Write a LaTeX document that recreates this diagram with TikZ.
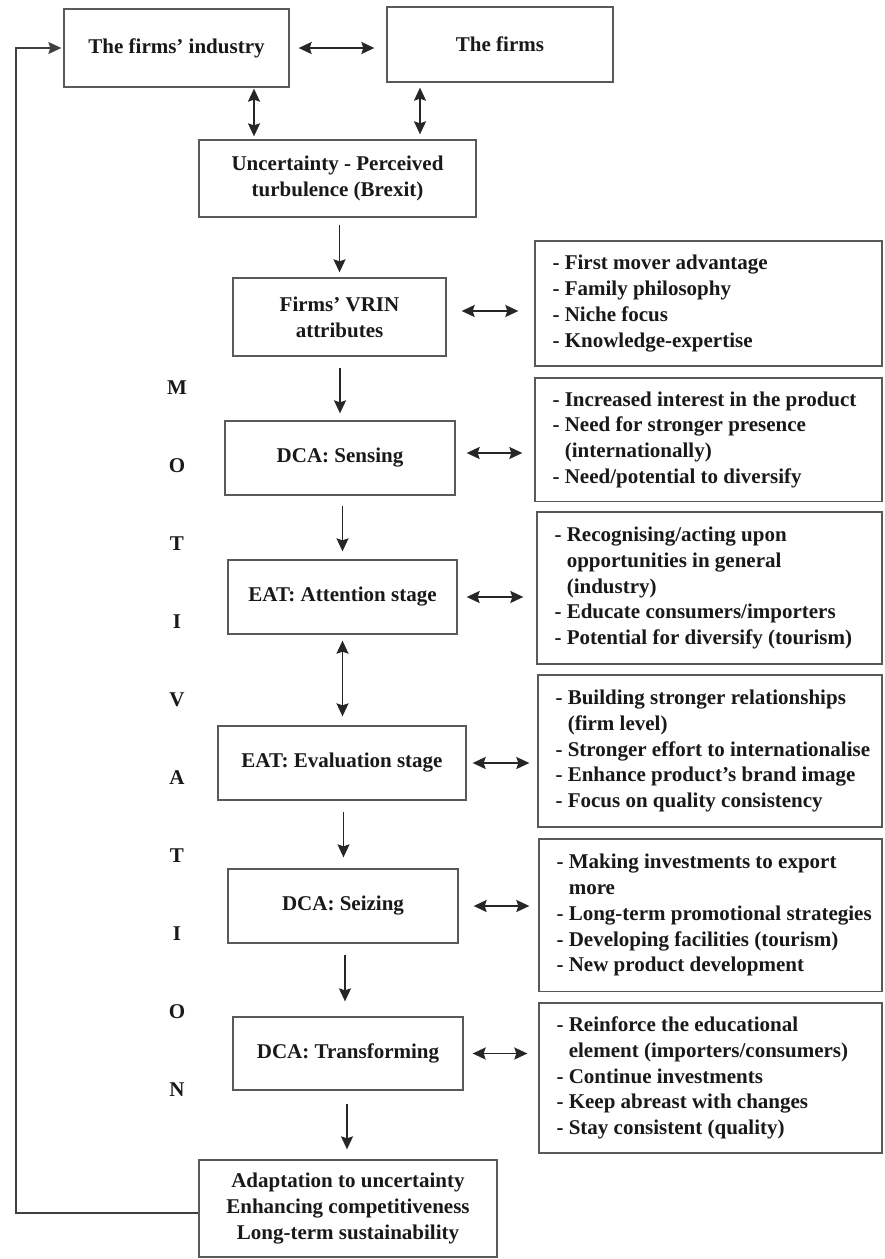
\documentclass[tikz,border=0pt]{standalone}
\usepackage{fontspec}
\setmainfont{Liberation Serif}
\usetikzlibrary{arrows.meta,calc}
\begin{document}
\begin{tikzpicture}[x=1pt,y=-1pt,
  txt/.style={font=\bfseries\fontsize{21}{25.8}\selectfont, text=black!90},
  box/.style={txt, draw=black!65, line width=1.3pt, fill=white, align=center, inner sep=0pt},
  rbox/.style={draw=black!65, line width=1.3pt, fill=white, inner sep=0pt},
  lst/.style={txt, align=left, inner sep=0pt, anchor=west},
  tip/.tip={Stealth[length=13pt,width=12pt,inset=2pt]},
  arr/.style={-tip, line width=1.8pt, draw=black!85},
  dbl/.style={tip-tip, line width=1.8pt, draw=black!85},
  motl/.style={txt}]
\useasboundingbox (0,0) rectangle (884,1259);

% left column boxes
\node[box, minimum width=225, minimum height=78] (ind) at (176.5,48) {The firms’ industry};
\node[box, minimum width=226, minimum height=75] (firms) at (500,44.5) {The firms};
\node[box, minimum width=277, minimum height=77] (unc) at (337.5,178.5) {Uncertainty - Perceived\\turbulence (Brexit)};
\node[box, minimum width=213, minimum height=78] (vrin) at (339.5,317) {Firms’ VRIN\\attributes};
\node[box, minimum width=230, minimum height=74] (sens) at (340,458) {DCA: Sensing};
\node[box, minimum width=229, minimum height=74] (att) at (342.5,597) {EAT: Attention stage};
\node[box, minimum width=248, minimum height=74] (eval) at (342,763) {EAT: Evaluation stage};
\node[box, minimum width=230, minimum height=74] (seiz) at (343,906) {DCA: Seizing};
\node[box, minimum width=230, minimum height=73] (trans) at (348,1053.5) {DCA: Transforming};
\node[box, minimum width=298, minimum height=97] (fin) at (348,1208.5) {Adaptation to uncertainty\\Enhancing competitiveness\\Long-term sustainability};

% right boxes
\node[rbox, minimum width=347, minimum height=125] (r1) at (708.5,303.5) {};
\node[lst] (r1t) at ([xshift=18]r1.west) {- First mover advantage\\- Family philosophy\\- Niche focus\\- Knowledge-expertise};
\node[rbox, minimum width=347, minimum height=123.5] (r2) at (708.5,439.75) {};
\node[lst] (r2t) at ([xshift=18]r2.west) {- Increased interest in the product\\- Need for stronger presence\\\phantom{- }(internationally)\\- Need/potential to diversify};
\node[rbox, minimum width=345, minimum height=152] (r3) at (709.5,588) {};
\node[lst] (r3t) at ([xshift=18]r3.west) {- Recognising/acting upon\\\phantom{- }opportunities in general\\\phantom{- }(industry)\\- Educate consumers/importers\\- Potential for diversify (tourism)};
\node[rbox, minimum width=344, minimum height=152] (r4) at (710,751) {};
\node[lst] (r4t) at ([xshift=18]r4.west) {- Building stronger relationships\\\phantom{- }(firm level)\\- Stronger effort to internationalise\\- Enhance product’s brand image\\- Focus on quality consistency};
\node[rbox, minimum width=343, minimum height=152.5] (r5) at (710.5,915.25) {};
\node[lst] (r5t) at ([xshift=18]r5.west) {- Making investments to export\\\phantom{- }more\\- Long-term promotional strategies\\- Developing facilities (tourism)\\- New product development};
\node[rbox, minimum width=343, minimum height=150] (r6) at (710.5,1078) {};
\node[lst] (r6t) at ([xshift=18]r6.west) {- Reinforce the educational\\\phantom{- }element (importers/consumers)\\- Continue investments\\- Keep abreast with changes\\- Stay consistent (quality)};

% MOTIVATION
\foreach \ch [count=\i from 0] in {M,O,T,I,V,A,T,I,O,N}
  \node[motl] (m\i) at (177,388+78*\i) {\ch};

% top arrows
\draw[dbl, shorten <=9pt, shorten >=12pt] (ind.east) -- (ind.east -| firms.west);
\draw[dbl, shorten <=1pt, shorten >=3pt] ([xshift=77.5]ind.south) -- ([xshift=77.5]ind.south |- unc.north);
\draw[dbl, shorten <=5pt, shorten >=5pt] ([xshift=-80]firms.south) -- ([xshift=-80]firms.south |- unc.north);

% main column arrows
\draw[arr, shorten <=7pt, shorten >=5pt] (vrin.north |- unc.south) -- (vrin.north);
\draw[arr, shorten <=11pt, shorten >=7pt] (sens.north |- vrin.south) -- (sens.north);
\draw[arr, shorten <=10pt, shorten >=8pt] (att.north |- sens.south) -- (att.north);
\draw[dbl, shorten <=6pt, shorten >=9pt] (att.south) -- (att.south |- eval.north);
\draw[arr, shorten <=11pt, shorten >=11pt] ([xshift=1.5]eval.south) -- ([xshift=1.5]eval.south |- seiz.north);
\draw[arr, shorten <=11pt, shorten >=15pt] ([xshift=2]seiz.south) -- ([xshift=2]seiz.south |- trans.north);
\draw[arr, shorten <=13pt, shorten >=10pt] ([xshift=-1]trans.south) -- ([xshift=-1]trans.south |- fin.north);

% side arrows
\draw[dbl, shorten <=15pt, shorten >=16pt] ([yshift=6]vrin.east) -- ([yshift=6]vrin.east -| r1.west);
\draw[dbl, shorten <=11pt, shorten >=12pt] ([yshift=5]sens.east) -- ([yshift=5]sens.east -| r2.west);
\draw[dbl, shorten <=9pt, shorten >=13pt] (att.east) -- (att.east -| r3.west);
\draw[dbl, shorten <=6pt, shorten >=8pt] (eval.east) -- (eval.east -| r4.west);
\draw[dbl, shorten <=15pt, shorten >=9pt] (seiz.east) -- (seiz.east -| r5.west);
\draw[dbl, shorten <=9pt, shorten >=11pt] (trans.east) -- (trans.east -| r6.west);

% feedback loop
\coordinate (fb) at (16,1213);
\draw[-tip, line width=1.4pt, draw=black!75, shorten >=2pt] ([yshift=-4.5]fin.west) -- (fb) |- (ind.west);
\end{tikzpicture}
\end{document}
